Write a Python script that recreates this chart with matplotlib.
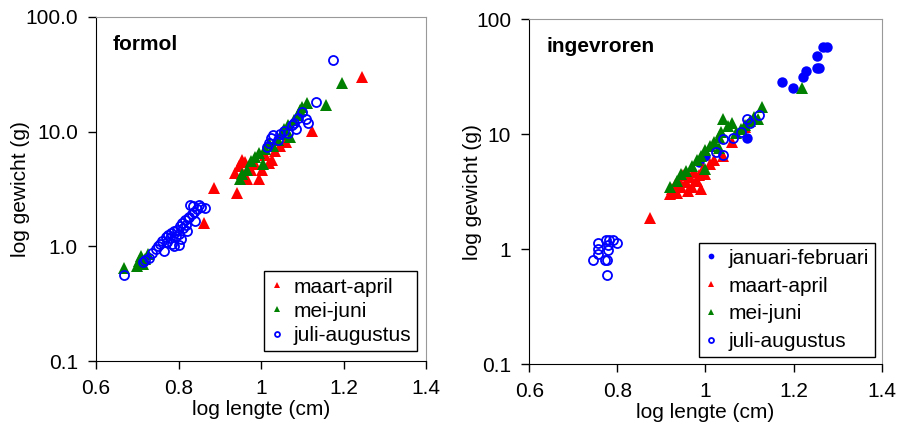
import matplotlib.pyplot as plt

plt.rcParams['font.family'] = ['Liberation Sans', 'DejaVu Sans']

# formol panel
f_ma_x = [0.862, 0.886, 0.942, 0.937, 0.946, 0.954, 0.960, 0.965, 0.975, 0.985, 0.995, 1.002,
          1.010, 1.020, 1.027, 1.035, 1.045, 1.060, 1.124, 1.245]
f_ma_y = [1.6, 3.2, 2.9, 4.4, 5.0, 5.7, 5.4, 3.9, 4.6, 5.2, 3.9, 4.6,
          6.2, 5.3, 5.7, 6.8, 7.5, 8.2, 10.1, 30]
f_mj_x = [0.668, 0.700, 0.705, 0.710, 0.715, 0.720, 0.725, 0.949, 0.955, 0.965, 0.975, 0.985,
          0.995, 1.005, 1.010, 1.020, 1.030, 1.040, 1.050, 1.055, 1.065, 1.070, 1.080, 1.090,
          1.095, 1.100, 1.111, 1.158, 1.196]
f_mj_y = [0.65, 0.68, 0.75, 0.82, 0.70, 0.78, 0.85, 3.9, 4.3, 4.6, 5.5, 6.0,
          6.5, 5.2, 7.0, 8.0, 7.5, 8.5, 9.5, 10.5, 11.5, 9.0, 12.5, 14,
          15.5, 16.5, 17.7, 17, 26.5]
f_ja_x = [0.668, 0.715, 0.720, 0.728, 0.735, 0.745, 0.750, 0.755, 0.760, 0.765, 0.770, 0.772,
          0.775, 0.780, 0.783, 0.785, 0.790, 0.793, 0.796, 0.800, 0.803, 0.806, 0.808, 0.812,
          0.815, 0.818, 0.820, 0.822, 0.825, 0.828, 0.832, 0.835, 0.838, 0.840, 0.845, 0.850,
          0.855, 0.864, 0.800, 0.790,
          1.015, 1.020, 1.025, 1.030, 1.040, 1.045, 1.055, 1.065, 1.075, 1.080, 1.085, 1.090,
          1.100, 1.110, 1.115, 1.133, 1.175]
f_ja_y = [0.56, 0.73, 0.76, 0.80, 0.88, 0.95, 1.00, 1.05, 1.12, 0.92, 1.20, 1.10,
          1.25, 1.18, 1.30, 1.05, 1.35, 1.22, 1.40, 1.28, 1.50, 1.15, 1.60, 1.45,
          1.70, 1.55, 1.35, 1.75, 1.80, 2.30, 1.90, 2.25, 2.00, 1.65, 2.10, 2.30,
          2.20, 2.15, 1.02, 1.00,
          7.3, 8.0, 8.8, 9.3, 8.5, 9.5, 10.2, 9.8, 11.5, 12.0, 10.5, 13.2,
          14.8, 13.0, 12.0, 18, 42]

# ingevroren panel
i_jf_x = [0.985, 0.999, 1.094, 1.173, 1.198, 1.221, 1.228, 1.253, 1.257, 1.253, 1.266, 1.275]
i_jf_y = [5.7, 6.4, 9.2, 28.3, 25, 31.3, 35.3, 37.5, 37.5, 47.6, 57, 57]
i_ma_x = [0.874, 0.920, 0.925, 0.930, 0.935, 0.940, 0.945, 0.950, 0.955, 0.960, 0.965, 0.970,
          0.975, 0.980, 0.985, 0.990, 0.995, 1.000, 1.010, 1.020, 1.040, 1.060, 1.090]
i_ma_y = [1.86, 3.0, 3.3, 3.6, 3.1, 4.0, 3.5, 4.4, 3.8, 3.2, 4.2, 3.5,
          4.7, 3.9, 4.4, 3.3, 5.0, 4.5, 5.5, 5.9, 6.5, 8.5, 11.5]
i_mj_x = [0.920, 0.935, 0.945, 0.955, 0.970, 0.980, 0.990, 1.000, 1.010, 1.020, 1.030, 1.035,
          1.040, 1.050, 1.060, 1.070, 1.080, 1.090, 1.100, 1.110, 1.120, 1.128, 1.219, 1.000, 1.030]
i_mj_y = [3.45, 3.9, 4.5, 4.8, 5.3, 5.9, 6.5, 7.2, 7.8, 8.5, 9.5, 10.5,
          13.5, 11.8, 12.5, 10.2, 11, 12, 13, 14, 13.5, 17.2, 25, 5.0, 7.5]
i_ja_x = [0.745, 0.756, 0.756, 0.756, 0.772, 0.777, 0.774, 0.781, 0.790, 0.800, 0.779, 0.779,
          0.777, 1.024, 1.040, 1.040, 1.062, 1.094, 1.121, 1.100, 1.080]
i_ja_y = [0.80, 1.13, 1.0, 0.91, 0.80, 0.80, 1.2, 1.2, 1.2, 1.13, 1.08, 0.98,
          0.6, 7.0, 6.6, 9.1, 9.2, 13.5, 14.6, 12.5, 10.5]

xticks = [0.6, 0.8, 1.0, 1.2, 1.4]
xticklabels = ["0.6", "0.8", "1", "1.2", "1.4"]
yticks = [0.1, 1, 10, 100]

fig = plt.figure(figsize=(8.97, 4.32), dpi=100)
ax1 = fig.add_axes([0.107, 0.164, 0.368, 0.797])
ax2 = fig.add_axes([0.590, 0.157, 0.393, 0.799])

tri = dict(marker="^", linestyle="none", markersize=9, markeredgewidth=0)
dot = dict(marker="o", linestyle="none", markersize=7.5, markeredgewidth=0)
ring = dict(marker="o", linestyle="none", markersize=6.5, markerfacecolor="none",
            markeredgecolor="#0000FF", markeredgewidth=1.3)

ax1.plot(f_ma_x, f_ma_y, color="#FF0000", label="maart-april", **tri)
ax1.plot(f_mj_x, f_mj_y, color="#008000", label="mei-juni", **tri)
ax1.plot(f_ja_x, f_ja_y, color="#0000FF", label="juli-augustus", **ring)

ax2.plot(i_jf_x, i_jf_y, color="#0000FF", label="januari-februari", **dot)
ax2.plot(i_ma_x, i_ma_y, color="#FF0000", label="maart-april", **tri)
ax2.plot(i_mj_x, i_mj_y, color="#008000", label="mei-juni", **tri)
ax2.plot(i_ja_x, i_ja_y, color="#0000FF", label="juli-augustus", **ring)

panels = [(ax1, ["0.1", "1.0", "10.0", "100.0"], "formol", -0.2, (0.973, 0.029), 0.25),
          (ax2, ["0.1", "1", "10", "100"], "ingevroren", -0.135, (0.98, 0.02), 0.42)]
for ax, ylabels, title, labx, anchor, spacing in panels:
    ax.set_yscale("log")
    ax.set_xlim(0.6, 1.4)
    ax.set_ylim(0.1, 100)
    ax.set_xticks(xticks)
    ax.set_xticklabels(xticklabels)
    ax.set_yticks(yticks)
    ax.set_yticklabels(ylabels)
    ax.minorticks_off()
    ax.tick_params(direction="out", length=6, width=1, labelsize=15, pad=7, color="black")
    for s in ["top", "right"]:
        ax.spines[s].set_color("#999999")
    for s in ["left", "bottom"]:
        ax.spines[s].set_color("black")
    ax.set_xlabel("log lengte (cm)", fontsize=15, labelpad=1)
    ax.set_ylabel("log gewicht (g)", fontsize=15)
    ax.yaxis.set_label_coords(labx, 0.5)
    ax.text(0.05, 0.905, title, transform=ax.transAxes, fontsize=15, fontweight="bold")
    leg = ax.legend(loc="lower right", fontsize=15, frameon=True, fancybox=False,
                    edgecolor="black", framealpha=1, handlelength=0.6, handletextpad=0.5,
                    borderpad=0.3, labelspacing=spacing, markerscale=0.55,
                    bbox_to_anchor=anchor, borderaxespad=0)
    leg.get_frame().set_linewidth(1)

fig.savefig("out.png", dpi=100)
